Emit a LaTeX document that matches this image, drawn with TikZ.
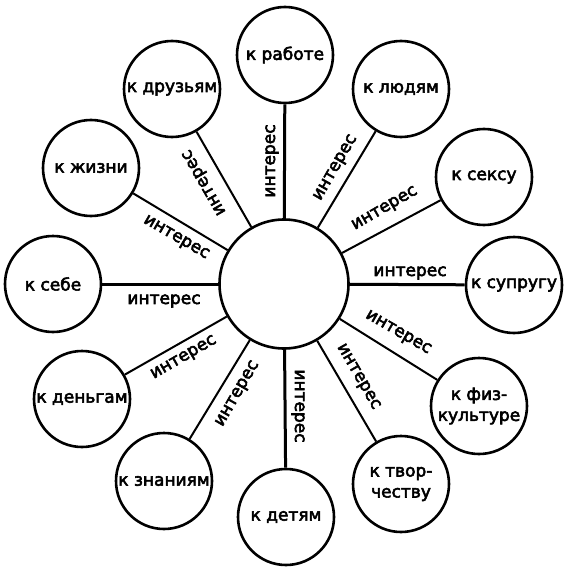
\documentclass[tikz,border=0pt]{standalone}
\usepackage{fontspec}
\setmainfont{DejaVu Sans}
\newcommand\heavytext[1]{\special{pdf:literal direct 2 Tr 0.55 w}#1\special{pdf:literal direct 0 Tr}}
\begin{document}
\begin{tikzpicture}[x=1pt,y=-1pt,
  txt/.style={font=\fontsize{17}{21}\selectfont},
  outer/.style={circle,draw,line width=2.6pt,minimum size=96pt,inner sep=0pt,align=center,txt},
  hub/.style={circle,draw,line width=2.6pt,minimum size=129pt,inner sep=0pt},
  conn/.style={line width=2pt},
  connhv/.style={line width=3pt},
  lab/.style={inner sep=0pt,txt}]
\useasboundingbox (0,0) rectangle (571,572);
\node[hub] (c) at (284,284) {};
\node[outer] (rab) at (285,55) {\heavytext{к работе}};
\node[outer] (lud) at (401,89) {\heavytext{к людям}};
\node[outer] (sex) at (484,177) {\heavytext{к сексу}};
\node[outer] (sup) at (514,285) {\heavytext{к супругу}};
\node[outer] (fiz) at (479,406) {\heavytext{к физ-}\\\heavytext{культуре}};
\node[outer] (tvo) at (401,484) {\heavytext{к твор-}\\\heavytext{честву}};
\node[outer] (det) at (286,517) {\heavytext{к детям}};
\node[outer] (zna) at (164,481) {\heavytext{к знаниям}};
\node[outer] (den) at (82,399) {\heavytext{к деньгам}};
\node[outer] (seb) at (53,284) {\heavytext{к себе}};
\node[outer] (zhi) at (91,168) {\heavytext{к жизни}};
\node[outer] (dru) at (172,89) {\heavytext{к друзьям}};
\draw[connhv] (c) -- (rab);
\draw[conn] (c) -- (lud);
\draw[conn] (c) -- (sex);
\draw[connhv] (c) -- (sup);
\draw[conn] (c) -- (fiz);
\draw[conn] (c) -- (tvo);
\draw[connhv] (c) -- (det);
\draw[conn] (c) -- (zna);
\draw[conn] (c) -- (den);
\draw[connhv] (c) -- (seb);
\draw[conn] (c) -- (zhi);
\draw[conn] (c) -- (dru);
\node[lab,rotate=90] (l1) at (272,161) {\heavytext{интерес}};
\node[lab,rotate=60] (l2) at (336,168) {\heavytext{интерес}};
\node[lab,rotate=30] (l3) at (385,209) {\heavytext{интерес}};
\node[lab] (l4) at (410,273) {\heavytext{интерес}};
\node[lab,rotate=-30] (l5) at (398,333) {\heavytext{интерес}};
\node[lab,rotate=-60] (l6) at (358,377) {\heavytext{интерес}};
\node[lab,rotate=-90] (l7) at (298,406) {\heavytext{интерес}};
\node[lab,rotate=60] (l8) at (238,394) {\heavytext{интерес}};
\node[lab,rotate=30] (l9) at (184,358) {\heavytext{интерес}};
\node[lab] (l10) at (164,301) {\heavytext{интерес}};
\node[lab,rotate=-30] (l11) at (176,238) {\heavytext{интерес}};
\node[lab,rotate=120] (l12) at (205,182) {\heavytext{интерес}};
\end{tikzpicture}
\end{document}
